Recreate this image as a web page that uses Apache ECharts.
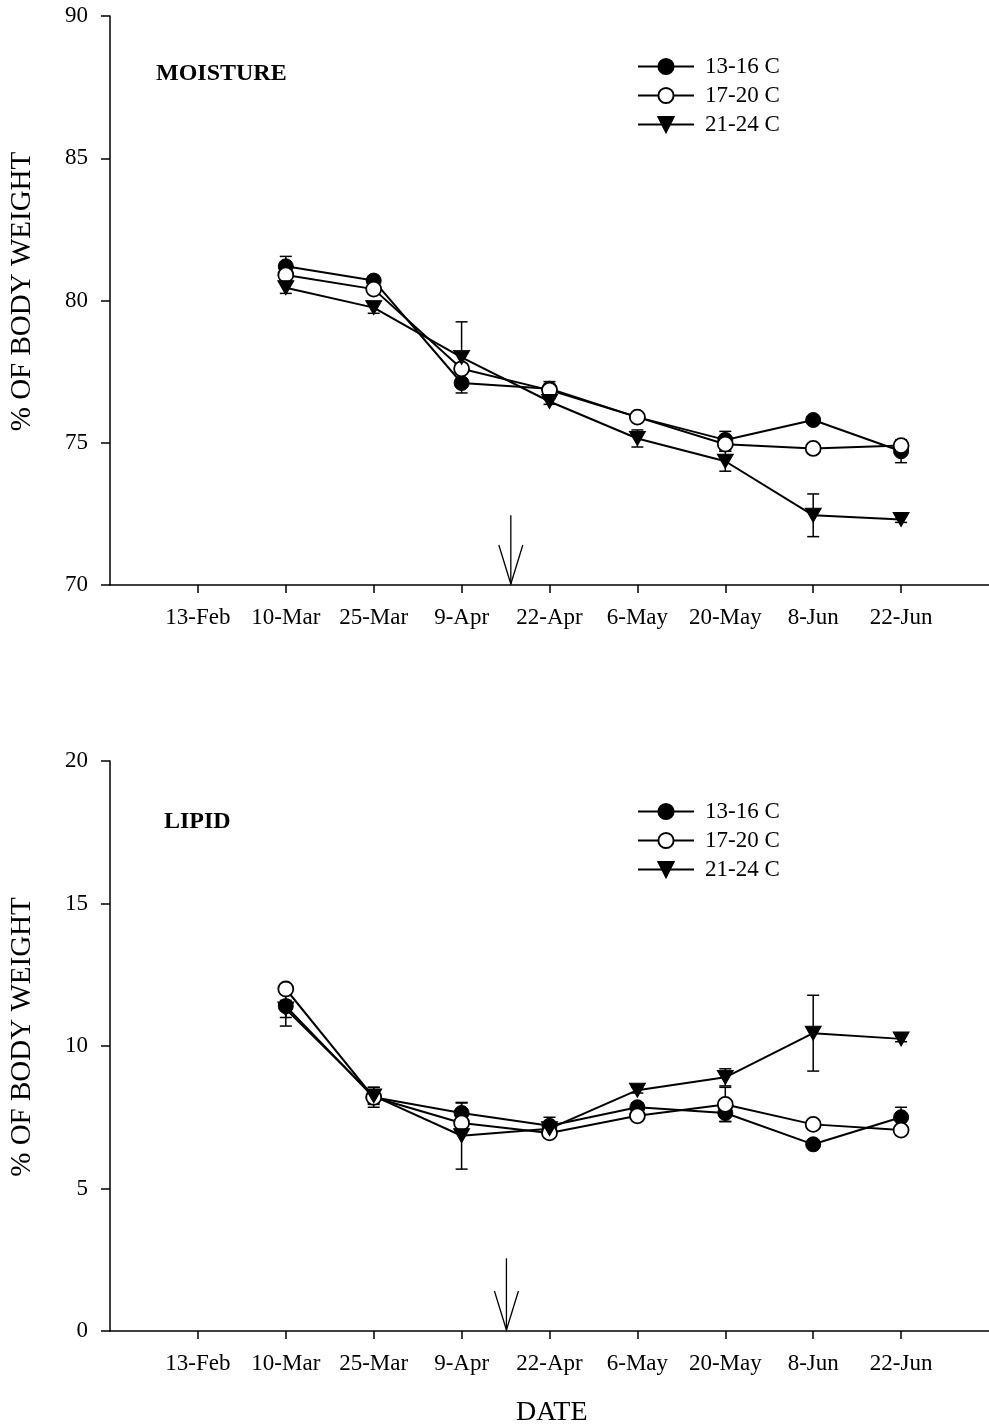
<!DOCTYPE html>
<html>
<head>
<meta charset="utf-8">
<script src="https://cdn.jsdelivr.net/npm/echarts@6/dist/echarts.min.js"></script>
<style>
  html, body { margin: 0; padding: 0; background: #fff; }
  #main { width: 989px; height: 1427px; }
</style>
</head>
<body>
<div id="main"></div>
<script>
var myChart = echarts.init(document.getElementById('main'));

// sampling dates, placed at x = 1..9
var dates = ['13-Feb', '10-Mar', '25-Mar', '9-Apr', '22-Apr', '6-May', '20-May', '8-Jun', '22-Jun'];
var names = ['13-16 C', '17-20 C', '21-24 C'];
var moistTicks = [70, 75, 80, 85, 90];
var lipidTicks = [0, 5, 10, 15, 20];

// moisture, % of body weight (13-Feb not sampled)
var moist13 = [null, 81.2, 80.7, 77.1, 76.9, 75.9, 75.1, 75.8, 74.7];
var moist13Err = [null, 0.35, 0.1, 0.15, 0.25, 0.1, 0.3, 0.1, 0.4];
var moist17 = [null, 80.9, 80.4, 77.6, 76.85, 75.9, 74.95, 74.8, 74.9];
var moist17Err = [null, 0.15, 0.1, 0.15, 0.2, 0.1, 0.25, 0.05, 0.15];
var moist21 = [null, 80.45, 79.75, 78.0, 76.45, 75.15, 74.35, 72.45, 72.3];
var moist21Err = [null, 0.2, 0.2, 1.25, 0.1, 0.3, 0.35, 0.75, 0.1];

// lipid, % of body weight
var lipid13 = [null, 11.4, 8.2, 7.65, 7.2, 7.85, 7.65, 6.55, 7.5];
var lipid13Err = [null, 0.7, 0.35, 0.35, 0.3, 0.15, 0.3, 0.1, 0.35];
var lipid17 = [null, 12.0, 8.2, 7.3, 6.95, 7.55, 7.95, 7.25, 7.05];
var lipid17Err = [null, 0.1, 0.2, 0.1, 0.1, 0.1, 0.6, 0.1, 0.1];
var lipid21 = [null, 11.3, 8.25, 6.85, 7.1, 8.45, 8.9, 10.45, 10.25];
var lipid21Err = [null, 0.3, 0.3, 1.17, 0.2, 0.1, 0.3, 1.33, 0.1];

// arrows (x position, top of shaft) for each panel
var arrowX = [4.56, 4.51];
var arrowTop = [72.45, 2.55];

var serif = '"Liberation Serif", "DejaVu Serif", serif';
var tickPos = dates.map(function (d, i) { return i + 1; });

function pts(vals) {
	var res = [];
	vals.forEach(function (v, i) { if (v != null) res.push([i + 1, v]); });
	return res;
}
function errPts(vals, errs) {
	var res = [];
	vals.forEach(function (v, i) { if (v != null) res.push([i + 1, v - errs[i], v + errs[i]]); });
	return res;
}

function renderErr(params, api) {
	var x = api.value(0);
	var lo = api.coord([x, api.value(1)]);
	var hi = api.coord([x, api.value(2)]);
	var st = { stroke: '#000', lineWidth: 1.5 };
	var w = 6;
	return {
		type: 'group',
		children: [
			{ type: 'line', shape: { x1: lo[0], y1: lo[1], x2: hi[0], y2: hi[1] }, style: st },
			{ type: 'line', shape: { x1: hi[0] - w, y1: hi[1], x2: hi[0] + w, y2: hi[1] }, style: st },
			{ type: 'line', shape: { x1: lo[0] - w, y1: lo[1], x2: lo[0] + w, y2: lo[1] }, style: st }
		]
	};
}

function renderArrow(params, api) {
	var x = api.value(0);
	var top = api.coord([x, api.value(1)]);
	var tip = api.coord([x, api.value(2)]);
	var st = { stroke: '#000', lineWidth: 1.3, fill: null };
	return {
		type: 'group',
		children: [
			{ type: 'line', shape: { x1: top[0], y1: top[1], x2: tip[0], y2: tip[1] - 1 }, style: st },
			{ type: 'polyline', shape: { points: [[tip[0] - 12, tip[1] - 40], [tip[0], tip[1] - 1], [tip[0] + 12, tip[1] - 40]] }, style: st }
		]
	};
}

function xAxisFor(idx) {
	return {
		type: 'value', gridIndex: idx, min: 0, max: 10, interval: 1,
		axisLine: { lineStyle: { color: '#000', width: 1.5 } },
		axisTick: { show: true, length: 8, customValues: tickPos, lineStyle: { color: '#000', width: 1.5 } },
		axisLabel: {
			customValues: tickPos, margin: 21, color: '#000', fontFamily: serif, fontSize: 23,
			formatter: function (v) { return dates[Math.round(v) - 1] || ''; }
		},
		splitLine: { show: false }
	};
}

function yAxisFor(idx, ticks) {
	return {
		type: 'value', gridIndex: idx, min: ticks[0], max: ticks[ticks.length - 1], interval: ticks[1] - ticks[0],
		name: '% OF BODY WEIGHT', nameLocation: 'middle', nameGap: 73, nameRotate: 90,
		nameTextStyle: { color: '#000', fontFamily: serif, fontSize: 29, padding: [0, 0, 0, 18] },
		axisLine: { show: true, lineStyle: { color: '#000', width: 1.5 } },
		axisTick: { show: true, length: 9, lineStyle: { color: '#000', width: 1.5 } },
		axisLabel: { margin: 22, color: '#000', fontFamily: serif, fontSize: 23 },
		splitLine: { show: false }
	};
}

var markers = [
	{ symbol: 'circle', symbolSize: 15, symbolRotate: 0, itemStyle: { color: '#000', borderColor: '#000', borderWidth: 1 } },
	{ symbol: 'circle', symbolSize: 15, symbolRotate: 0, itemStyle: { color: '#fff', borderColor: '#000', borderWidth: 1.8 } },
	{ symbol: 'triangle', symbolSize: [16, 14], symbolRotate: 180, itemStyle: { color: '#000', borderColor: '#000', borderWidth: 1 } }
];

function lineSeries(idx, name, vals, m) {
	return {
		name: name, type: 'line', xAxisIndex: idx, yAxisIndex: idx,
		data: pts(vals), symbol: m.symbol, symbolSize: m.symbolSize, symbolRotate: m.symbolRotate,
		showAllSymbol: true, animation: false, z: 3,
		lineStyle: { color: '#000', width: 2 },
		itemStyle: m.itemStyle
	};
}
function errSeries(idx, vals, errs) {
	return {
		type: 'custom', xAxisIndex: idx, yAxisIndex: idx, renderItem: renderErr,
		data: errPts(vals, errs), encode: { x: 0, y: [1, 2] }, z: 2, animation: false, silent: true
	};
}

var panels = [
	[moist13, moist13Err, moist17, moist17Err, moist21, moist21Err],
	[lipid13, lipid13Err, lipid17, lipid17Err, lipid21, lipid21Err]
];
var series = [];
panels.forEach(function (p, idx) {
	series.push(errSeries(idx, p[0], p[1]));
	series.push(errSeries(idx, p[2], p[3]));
	series.push(errSeries(idx, p[4], p[5]));
	series.push(lineSeries(idx, names[0], p[0], markers[0]));
	series.push(lineSeries(idx, names[1], p[2], markers[1]));
	series.push(lineSeries(idx, names[2], p[4], markers[2]));
	series.push({
		type: 'custom', xAxisIndex: idx, yAxisIndex: idx, renderItem: renderArrow, silent: true, animation: false,
		data: [[arrowX[idx], arrowTop[idx], idx === 0 ? moistTicks[0] : lipidTicks[0]]], encode: { x: 0, y: [1, 2] }
	});
});

function legendAt(top) {
	return {
		orient: 'vertical', left: 632, top: top, itemWidth: 56, itemHeight: 19, itemGap: 6,
		selectedMode: false, data: names,
		textStyle: { color: '#000', fontFamily: serif, fontSize: 23, lineHeight: 23, padding: [0, 0, 0, 6] }
	};
}

option = {
	backgroundColor: '#fff',
	animation: false,
	title: [
		{ text: 'MOISTURE', left: 156, top: 62, padding: 0, textStyle: { color: '#000', fontFamily: serif, fontWeight: 'bold', fontSize: 24 } },
		{ text: 'LIPID', left: 164, top: 810, padding: 0, textStyle: { color: '#000', fontFamily: serif, fontWeight: 'bold', fontSize: 24 } }
	],
	legend: [legendAt(50), legendAt(795)],
	grid: [
		{ left: 110, top: 16, width: 888, height: 569 },
		{ left: 110, top: 761, width: 888, height: 570 }
	],
	xAxis: [xAxisFor(0), xAxisFor(1)],
	yAxis: [yAxisFor(0, moistTicks), yAxisFor(1, lipidTicks)],
	graphic: [
		{ type: 'text', left: 516, top: 1399, style: { text: 'DATE', fill: '#000', font: '28px ' + serif } }
	],
	series: series
};
myChart.setOption(option);
</script>
</body>
</html>
